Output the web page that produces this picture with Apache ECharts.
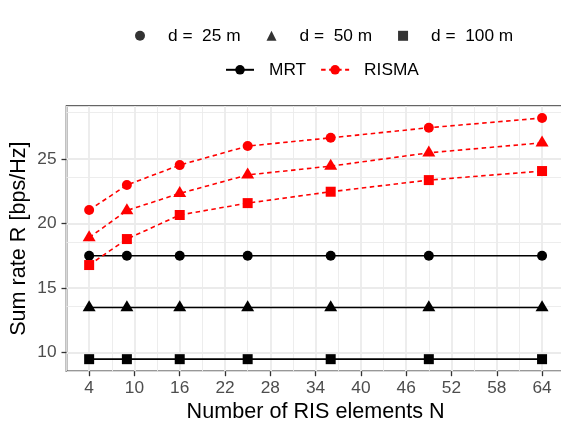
<!DOCTYPE html>
<html>
<head>
<meta charset="utf-8">
<script src="https://cdn.jsdelivr.net/npm/echarts@6/dist/echarts.min.js"></script>
<style>
html,body{margin:0;padding:0;background:#fff;}
#chart{width:561px;height:423px;}
</style>
</head>
<body>
<div id="chart"></div>
<script>
// ---- data ----
const N = [4, 9, 16, 25, 36, 49, 64];
const mrt25 = [17.5, 17.5, 17.5, 17.5, 17.5, 17.5, 17.5];
const mrt50 = [13.5, 13.5, 13.5, 13.5, 13.5, 13.5, 13.5];
const mrt100 = [9.5, 9.5, 9.5, 9.5, 9.5, 9.5, 9.5];
const risma25 = [21.03, 22.97, 24.51, 25.98, 26.62, 27.40, 28.15];
const risma50 = [18.90, 21.00, 22.32, 23.75, 24.43, 25.46, 26.23];
const risma100 = [16.78, 18.79, 20.65, 21.57, 22.45, 23.35, 24.05];
const xTicks = [4, 10, 16, 22, 28, 34, 40, 46, 52, 58, 64];
const yTicks = [10, 15, 20, 25];
const distLabels = ['d =  25 m', 'd =  50 m', 'd =  100 m'];
const methodLabels = ['MRT', 'RISMA'];

// ---- styles ----
const FONT = "'Liberation Sans', Arial, Helvetica, sans-serif";
const RED = '#FF0000';
const BLACK = '#000000';
const shapes = [
  { symbol: 'circle', size: 10, offset: [0, 0] },
  { symbol: 'triangle', size: [13, 11], offset: [0, -1.8] },
  { symbol: 'rect', size: 10, offset: [0, 0] }
];
const legendIcons = ['circle', 'triangle', 'rect'];
const solid = { color: BLACK, width: 1.6, type: 'solid' };
const dashed = { color: RED, width: 1.6, type: [4.5, 3.5] };

function pts(vals) { return N.map((n, i) => [n, vals[i]]); }

function dataSeries(name, vals, shapeIdx, color, lineStyle, z) {
  const sh = shapes[shapeIdx];
  return {
    name: name, type: 'line', xAxisIndex: 0, yAxisIndex: 0,
    data: pts(vals), symbol: sh.symbol, symbolSize: sh.size, symbolOffset: sh.offset,
    showSymbol: true, lineStyle: lineStyle, itemStyle: { color: color },
    animation: false, silent: true, z: z
  };
}

const series = [];
// legend-only entries
distLabels.forEach((l, i) => series.push({
  name: l, type: 'scatter', data: [], symbol: legendIcons[i], itemStyle: { color: BLACK }
}));
series.push({ name: methodLabels[0], type: 'line', data: [], symbol: 'circle', symbolSize: 10,
  lineStyle: solid, itemStyle: { color: BLACK } });
series.push({ name: methodLabels[1], type: 'line', data: [], symbol: 'circle', symbolSize: 10,
  lineStyle: dashed, itemStyle: { color: RED } });

series.push(dataSeries('MRT 25', mrt25, 0, BLACK, solid, 3));
series.push(dataSeries('MRT 50', mrt50, 1, BLACK, solid, 3));
series.push(dataSeries('MRT 100', mrt100, 2, BLACK, solid, 3));
series.push(dataSeries('RISMA 25', risma25, 0, RED, dashed, 4));
series.push(dataSeries('RISMA 50', risma50, 1, RED, dashed, 4));
series.push(dataSeries('RISMA 100', risma100, 2, RED, dashed, 4));

const yMin = 8.57, yMax = 29.08;
const hidden = { show: false };

const option = {
  animation: false,
  backgroundColor: '#ffffff',
  grid: { left: 66.5, top: 106, right: -3.7, bottom: 51.8, show: true,
          outerBoundsMode: 'none', containLabel: false,
          borderColor: '#333333', borderWidth: 1.6, backgroundColor: 'transparent' },
  legend: [
    { left: 135, top: 27.3, padding: 0, itemWidth: 10, itemHeight: 10, itemGap: 26,
      selectedMode: false,
      data: distLabels.map((l, i) => ({ name: l, icon: legendIcons[i] })),
      textStyle: { fontFamily: FONT, fontSize: 17.3, color: '#000', padding: [0, 0, 0, 18], lineHeight: 10 } },
    { left: 225, top: 61.3, padding: 0, itemWidth: 28, itemHeight: 12, itemGap: 14,
      selectedMode: false, data: methodLabels,
      textStyle: { fontFamily: FONT, fontSize: 17.3, color: '#000', padding: [0, 0, 0, 10], lineHeight: 12 } }
  ],
  xAxis: [
    { type: 'value', min: 1, max: 67, position: 'bottom',
      axisLine: hidden,
      axisTick: { show: true, length: 5, customValues: xTicks, lineStyle: { color: '#333333', width: 1.3 } },
      axisLabel: { show: true, customValues: xTicks, margin: 9, color: '#4D4D4D', fontSize: 17.3, fontFamily: FONT },
      splitLine: { show: true, lineStyle: { color: '#EBEBEB', width: 1.8 } },
      name: 'Number of RIS elements N', nameLocation: 'middle', nameGap: 30, nameMoveOverlap: false,
      nameTextStyle: { fontFamily: FONT, fontSize: 21.6, color: '#000' }, z: 1 },
    { type: 'value', min: 0, max: 66, interval: 6, position: 'top',
      axisLine: hidden, axisTick: hidden, axisLabel: hidden,
      splitLine: { show: true, lineStyle: { color: '#EBEBEB', width: 0.9 } }, z: 0 }
  ],
  yAxis: [
    { type: 'value', min: yMin, max: yMax, position: 'left',
      axisLine: hidden,
      axisTick: { show: true, length: 5, customValues: yTicks, lineStyle: { color: '#333333', width: 1.3 } },
      axisLabel: { show: true, customValues: yTicks, margin: 10, color: '#4D4D4D', fontSize: 17.3, fontFamily: FONT },
      splitLine: { show: true, lineStyle: { color: '#EBEBEB', width: 1.8 } },
      name: 'Sum rate R [bps/Hz]', nameLocation: 'middle', nameGap: 36, nameMoveOverlap: false,
      nameTextStyle: { fontFamily: FONT, fontSize: 21.6, color: '#000' }, z: 1 },
    { type: 'value', min: yMin - 2.5, max: yMax - 2.5, interval: 5, position: 'right',
      axisLine: hidden, axisTick: hidden, axisLabel: hidden,
      splitLine: { show: true, lineStyle: { color: '#EBEBEB', width: 0.9 } }, z: 0 }
  ],
  series: series
};

const chart = echarts.init(document.getElementById('chart'), null, { renderer: 'canvas' });
chart.setOption(option);
</script>
</body>
</html>
